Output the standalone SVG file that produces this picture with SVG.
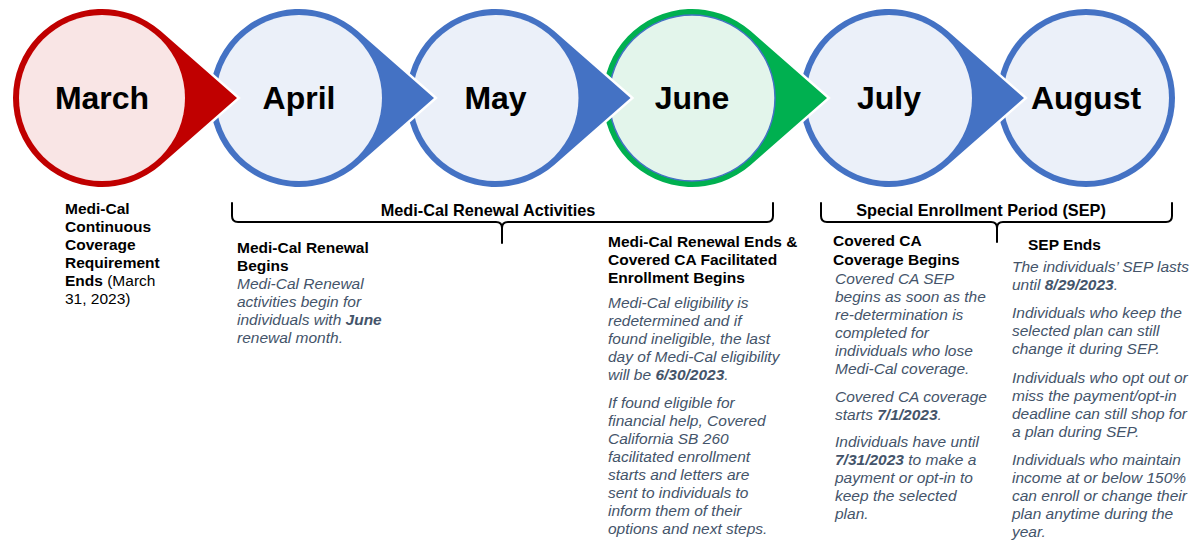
<svg xmlns="http://www.w3.org/2000/svg" xmlns:xlink="http://www.w3.org/1999/xlink" width="1196" height="542" viewBox="0 0 1196 542">
<style>
text{font-family:"Liberation Sans",Arial,sans-serif}
.month{font-size:32px;font-weight:bold;fill:#000;text-anchor:middle}
.drop{stroke:#fff;stroke-width:5;paint-order:stroke}
.h{font-size:15.5px;font-weight:bold;fill:#000}
.r{font-size:15.5px;fill:#000}
.it{font-size:15.5px;font-style:italic;fill:#44546A}
.b{font-weight:bold}
.brace{fill:none;stroke:#000;stroke-width:2;stroke-linecap:round;stroke-linejoin:round}
.blab{font-size:16.3px;font-weight:bold;fill:#000;text-anchor:middle}
</style>
<defs>
<path id="tear" d="M135,0 L58.67,-66.92 A89,89 0 1 0 58.67,66.92 Z"/>
</defs>
<rect width="1196" height="542" fill="#fff"/>

<g id="node-august">
<circle cx="1086" cy="98" r="89" fill="#4472C4"/>
<circle cx="1086" cy="98" r="83" fill="#EBF0F9"/>
<text class="month" x="1086" y="109">August</text>
</g>
<g id="node-july">
<use xlink:href="#tear" href="#tear" class="drop" fill="#4472C4" transform="translate(889,98)"/>
<circle cx="889" cy="98" r="83" fill="#EBF0F9"/>
<text class="month" x="889" y="109">July</text>
</g>
<g id="node-june">
<use xlink:href="#tear" href="#tear" class="drop" fill="#00B050" transform="translate(692,98)"/>
<circle cx="692" cy="98" r="83" fill="#E3F5EB" stroke="#4472C4" stroke-width="1.5"/>
<text class="month" x="692" y="109">June</text>
</g>
<g id="node-may">
<use xlink:href="#tear" href="#tear" class="drop" fill="#4472C4" transform="translate(495.5,98)"/>
<circle cx="495.5" cy="98" r="83" fill="#EBF0F9"/>
<text class="month" x="495.5" y="109">May</text>
</g>
<g id="node-april">
<use xlink:href="#tear" href="#tear" class="drop" fill="#4472C4" transform="translate(299,98)"/>
<circle cx="299" cy="98" r="83" fill="#EBF0F9"/>
<text class="month" x="299" y="109">April</text>
</g>
<g id="node-march">
<use xlink:href="#tear" href="#tear" class="drop" fill="#C00000" transform="translate(102,98)"/>
<circle cx="102" cy="98" r="83" fill="#F9E5E5"/>
<text class="month" x="102" y="109">March</text>
</g>

<g id="connectors">
<path class="brace" d="M232,203 L232,216 Q232,222 238,222 L496,222 Q502,222 502,228 L502,243 M502,228 Q502,222 508,222 L767,222 Q773,222 773,216 L773,203"/>
<path class="brace" d="M821,203 L821,216 Q821,222 827,222 L991,222 Q997,222 997,228 L997,242 M997,228 Q997,222 1003,222 L1166,222 Q1172,222 1172,216 L1172,203"/>
</g>

<g id="label-renewal-activities">
<text class="blab" x="488" y="216">Medi-Cal Renewal Activities</text>
</g>
<g id="label-sep">
<text class="blab" x="981" y="216">Special Enrollment Period (SEP)</text>
</g>

<g id="text-march">
<text class="h" x="65" y="214">Medi-Cal</text>
<text class="h" x="65" y="232">Continuous</text>
<text class="h" x="65" y="250">Coverage</text>
<text class="h" x="65" y="268">Requirement</text>
<text class="h" x="65" y="286">Ends <tspan font-weight="normal">(March</tspan></text>
<text class="r" x="65" y="304">31, 2023)</text>
</g>

<g id="text-april">
<text class="h" x="237" y="253">Medi-Cal Renewal</text>
<text class="h" x="237" y="271">Begins</text>
<text class="it" x="237" y="289">Medi-Cal Renewal</text>
<text class="it" x="237" y="307">activities begin for</text>
<text class="it" x="237" y="325">individuals with <tspan class="b">June</tspan></text>
<text class="it" x="237" y="343">renewal month.</text>
</g>

<g id="text-june">
<text class="h" x="608" y="247">Medi-Cal Renewal Ends &amp;</text>
<text class="h" x="608" y="265">Covered CA Facilitated</text>
<text class="h" x="608" y="283">Enrollment Begins</text>
<text class="it" x="608" y="308">Medi-Cal eligibility is</text>
<text class="it" x="608" y="326">redetermined and if</text>
<text class="it" x="608" y="344">found ineligible, the last</text>
<text class="it" x="608" y="362">day of Medi-Cal eligibility</text>
<text class="it" x="608" y="380">will be <tspan class="b">6/30/2023</tspan>.</text>
<text class="it" x="608" y="408">If found eligible for</text>
<text class="it" x="608" y="426">financial help, Covered</text>
<text class="it" x="608" y="444">California SB 260</text>
<text class="it" x="608" y="462">facilitated enrollment</text>
<text class="it" x="608" y="480">starts and letters are</text>
<text class="it" x="608" y="498">sent to individuals to</text>
<text class="it" x="608" y="516">inform them of their</text>
<text class="it" x="608" y="534">options and next steps.</text>
</g>

<g id="text-july">
<text class="h" x="833" y="246">Covered CA</text>
<text class="h" x="833" y="265">Coverage Begins</text>
<text class="it" x="835" y="284">Covered CA SEP</text>
<text class="it" x="835" y="302">begins as soon as the</text>
<text class="it" x="835" y="320">re-determination is</text>
<text class="it" x="835" y="338">completed for</text>
<text class="it" x="835" y="356">individuals who lose</text>
<text class="it" x="835" y="374">Medi-Cal coverage.</text>
<text class="it" x="835" y="402">Covered CA coverage</text>
<text class="it" x="835" y="420">starts <tspan class="b">7/1/2023</tspan>.</text>
<text class="it" x="835" y="447">Individuals have until</text>
<text class="it" x="835" y="465"><tspan class="b">7/31/2023</tspan> to make a</text>
<text class="it" x="835" y="483">payment or opt-in to</text>
<text class="it" x="835" y="501">keep the selected</text>
<text class="it" x="835" y="519">plan.</text>
</g>

<g id="text-august">
<text class="h" x="1028" y="250">SEP Ends</text>
<text class="it" x="1012" y="272">The individuals’ SEP lasts</text>
<text class="it" x="1012" y="290">until <tspan class="b">8/29/2023</tspan>.</text>
<text class="it" x="1012" y="318">Individuals who keep the</text>
<text class="it" x="1012" y="336">selected plan can still</text>
<text class="it" x="1012" y="354">change it during SEP.</text>
<text class="it" x="1012" y="383">Individuals who opt out or</text>
<text class="it" x="1012" y="401">miss the payment/opt-in</text>
<text class="it" x="1012" y="419">deadline can still shop for</text>
<text class="it" x="1012" y="437">a plan during SEP.</text>
<text class="it" x="1012" y="465">Individuals who maintain</text>
<text class="it" x="1012" y="483">income at or below 150%</text>
<text class="it" x="1012" y="501">can enroll or change their</text>
<text class="it" x="1012" y="519">plan anytime during the</text>
<text class="it" x="1012" y="537">year.</text>
</g>
</svg>
